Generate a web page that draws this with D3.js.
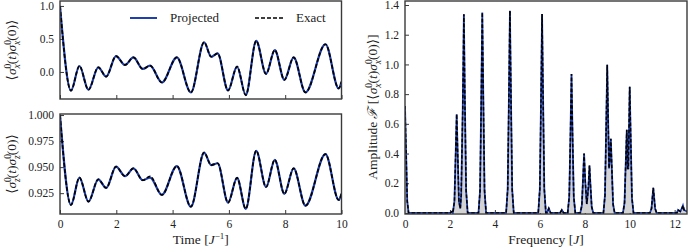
<!DOCTYPE html>
<html><head><meta charset="utf-8">
<script src="https://cdn.jsdelivr.net/npm/d3@7"></script>
<style>body{margin:0;background:#fff}svg{display:block}</style>
</head><body>
<svg id="c" width="688" height="249"></svg>
<script>
// ---- data ----
// top-left: <sigma_x sigma_x>, extrema (time, value)
const tX = [0, 0.39, 0.69, 1.01, 1.36, 1.64, 1.99, 2.31, 2.61, 2.94, 3.2, 3.62, 4.15, 4.65, 5.12, 5.37, 5.6, 5.97, 6.29, 6.6, 6.97, 7.32, 7.63, 7.97, 8.3, 8.72, 9.43, 9.9, 10];
const vXproj = [1.0, -0.283, 0.09, -0.27, 0.07, -0.07, 0.24, 0.106, 0.22, 0.045, 0.095, -0.16, 0.22, -0.31, 0.45, 0.23, 0.28, -0.28, 0.08, -0.35, 0.47, -0.03, 0.33, -0.12, 0.22, -0.31, 0.42, -0.25, -0.15];
const vXexact = [1.0, -0.283, 0.09, -0.27, 0.07, -0.07, 0.24, 0.106, 0.22, 0.045, 0.095, -0.16, 0.22, -0.31, 0.45, 0.23, 0.28, -0.28, 0.08, -0.35, 0.47, -0.03, 0.33, -0.12, 0.22, -0.31, 0.42, -0.25, -0.15];
// bottom-left: <sigma_z sigma_z>
const vZproj = [1.0, 0.9137, 0.940, 0.9169, 0.9383, 0.930, 0.9504, 0.9413, 0.9488, 0.9374, 0.9400, 0.9234, 0.951, 0.912, 0.964, 0.952, 0.9537, 0.916, 0.9396, 0.910, 0.9657, 0.9309, 0.957, 0.9244, 0.9488, 0.913, 0.9625, 0.9185, 0.9244];
const vZexact = [1.0, 0.9137, 0.940, 0.9169, 0.9383, 0.930, 0.9504, 0.9413, 0.9488, 0.9374, 0.9412, 0.9234, 0.951, 0.912, 0.964, 0.952, 0.9537, 0.916, 0.9396, 0.910, 0.9657, 0.9309, 0.957, 0.9244, 0.9488, 0.913, 0.9625, 0.9185, 0.9244];
// right: Fourier amplitude spectrum (frequency, amplitude)
const specF = [0, 0.05, 0.1, 0.16, 2.0, 2.1, 2.13, 2.2, 2.25, 2.3, 2.35, 2.4, 2.46, 2.5, 2.57, 2.62, 2.67, 2.72, 2.79,
  3.27, 3.34, 3.39, 3.44, 3.49, 3.54, 3.61, 4.5, 4.57, 4.62, 4.67, 4.72, 4.77, 4.84,
  5.93, 6.0, 6.05, 6.1, 6.15, 6.2, 6.27, 6.32, 6.4, 6.48, 6.9, 6.98, 7.06,
  7.24, 7.31, 7.36, 7.41, 7.46, 7.51, 7.58, 7.8, 7.87, 7.92, 7.97, 8.02, 8.09, 8.16, 8.21, 8.26, 8.31, 8.38,
  8.83, 8.9, 8.95, 9.0, 9.05, 9.08, 9.11, 9.16, 9.21, 9.26, 9.33,
  9.7, 9.77, 9.82, 9.87, 9.91, 9.94, 10.0, 10.05, 10.1, 10.17,
  10.9, 10.97, 11.01, 11.05, 11.09, 11.13, 11.2, 12.1, 12.15, 12.25, 12.32, 12.37, 12.42, 12.55];
const specA = [0.72, 0.4, 0.08, 0, 0, 0.01, 0, 0.08, 0.37, 0.665, 0.37, 0.08, 0.03, 0.12, 0.7, 1.337, 0.7, 0.15, 0,
  0, 0.15, 0.72, 1.35, 0.72, 0.15, 0, 0, 0.16, 0.73, 1.362, 0.73, 0.16, 0,
  0, 0.16, 0.72, 1.34, 0.72, 0.16, 0, 0, 0.03, 0, 0, 0.02, 0,
  0, 0.11, 0.5, 0.936, 0.5, 0.11, 0, 0, 0.05, 0.22, 0.40, 0.22, 0.06, 0.17, 0.32, 0.17, 0.04, 0,
  0, 0.12, 0.55, 0.997, 0.55, 0.3, 0.35, 0.50, 0.28, 0.06, 0,
  0, 0.07, 0.32, 0.56, 0.3, 0.3, 0.85, 0.47, 0.1, 0,
  0, 0.03, 0.1, 0.17, 0.1, 0.03, 0, 0, 0.02, 0.01, 0.03, 0.05, 0.02, 0.01];
const timeTicks = [0, 2, 4, 6, 8, 10];
const xTopTicks = [0, 0.5, 1.0];
const zTicks = [0.925, 0.950, 0.975, 1.000];
const fTicks = [0, 2, 4, 6, 8, 10, 12];
const aTicks = [0, 0.2, 0.4, 0.6, 0.8, 1.0, 1.2, 1.4];
const legendNames = ["Projected", "Exact"];

// ---- drawing ----
const svg = d3.select('#c');
const FONT = "'Liberation Serif','DejaVu Serif',serif";
const BLUE = '#1f3fae', FRAME = '#3a3a3a', TXT = '#222';

const P = {
  tl: {x0: 60, x1: 341.5, y0: 1, y1: 99},
  bl: {x0: 60, x1: 341.5, y0: 114, y1: 214},
  r:  {x0: 405, x1: 687, y0: 1, y1: 214}
};

function panel(key, xs, ys, xticks, yticks, xfmt, yfmt, showXLabels) {
  const p = P[key];
  const g = svg.append('g');
  g.append('clipPath').attr('id', 'clip' + key).append('rect')
    .attr('x', p.x0).attr('y', p.y0).attr('width', p.x1 - p.x0).attr('height', p.y1 - p.y0);
  const ax = d3.axisBottom(xs).tickValues(xticks).tickSizeInner(-4).tickSizeOuter(0).tickPadding(6)
    .tickFormat(showXLabels ? xfmt : () => '');
  const ay = d3.axisLeft(ys).tickValues(yticks).tickSizeInner(-4).tickSizeOuter(0).tickPadding(6).tickFormat(yfmt);
  const gx = g.append('g').attr('transform', `translate(0,${p.y1})`).call(ax);
  const gy = g.append('g').attr('transform', `translate(${p.x0},0)`).call(ay);
  [gx, gy].forEach(a => {
    a.select('.domain').remove();
    a.selectAll('line').attr('stroke', FRAME).attr('stroke-width', 1);
    a.selectAll('text').attr('font-family', FONT).attr('font-size', 11.5).attr('fill', TXT);
  });
  return g;
}
function frame(key) {
  const p = P[key];
  svg.append('rect').attr('x', p.x0).attr('y', p.y0).attr('width', p.x1 - p.x0).attr('height', p.y1 - p.y0)
    .attr('fill', 'none').attr('stroke', FRAME).attr('stroke-width', 1.4);
}

// Top-left
const xT = d3.scaleLinear().domain([0, 10]).range([P.tl.x0, P.tl.x1]);
const yTL = d3.scaleLinear().domain([-0.41, 1.075]).range([P.tl.y1, P.tl.y0]);
const gTL = panel('tl', xT, yTL, timeTicks, xTopTicks, d3.format('.0f'), d3.format('.1f'), false);
const lineTL = d3.line().x((d, i) => xT(tX[i])).y(d => yTL(d)).curve(d3.curveMonotoneX);
gTL.append('path').attr('d', lineTL(vXproj)).attr('clip-path', 'url(#cliptl)')
  .attr('fill', 'none').attr('stroke', BLUE).attr('stroke-width', 2.2);
gTL.append('path').attr('d', lineTL(vXexact)).attr('clip-path', 'url(#cliptl)')
  .attr('fill', 'none').attr('stroke', '#000').attr('stroke-width', 1.7).attr('stroke-dasharray', '4,2');
frame('tl');

// Bottom-left
const xB = d3.scaleLinear().domain([0, 10]).range([P.bl.x0, P.bl.x1]);
const yBL = d3.scaleLinear().domain([0.905, 1.001]).range([P.bl.y1, P.bl.y0]);
const gBL = panel('bl', xB, yBL, timeTicks, zTicks, d3.format('.0f'), d3.format('.3f'), true);
const lineBL = d3.line().x((d, i) => xB(tX[i])).y(d => yBL(d)).curve(d3.curveMonotoneX);
gBL.append('path').attr('d', lineBL(vZproj)).attr('clip-path', 'url(#clipbl)')
  .attr('fill', 'none').attr('stroke', BLUE).attr('stroke-width', 2.2);
gBL.append('path').attr('d', lineBL(vZexact)).attr('clip-path', 'url(#clipbl)')
  .attr('fill', 'none').attr('stroke', '#000').attr('stroke-width', 1.7).attr('stroke-dasharray', '4,2');
frame('bl');

// Right spectrum
const xF = d3.scaleLinear().domain([0, 12.55]).range([P.r.x0, P.r.x1]);
const yA = d3.scaleLinear().domain([-0.007, 1.427]).range([P.r.y1, P.r.y0]);
const gR = panel('r', xF, yA, fTicks, aTicks, d3.format('.0f'), d3.format('.1f'), true);
const area = d3.area().x((d, i) => xF(specF[i])).y0(yA(0)).y1(d => yA(d));
const lineR = d3.line().x((d, i) => xF(specF[i])).y(d => yA(d));
gR.append('path').attr('d', area(specA)).attr('clip-path', 'url(#clipr)').attr('fill', '#d3d3d3');
gR.append('path').attr('d', lineR(specA)).attr('clip-path', 'url(#clipr)')
  .attr('fill', 'none').attr('stroke', BLUE).attr('stroke-width', 1.8);
gR.append('path').attr('d', lineR(specA)).attr('clip-path', 'url(#clipr)')
  .attr('fill', 'none').attr('stroke', '#000').attr('stroke-width', 1.5).attr('stroke-dasharray', '3.5,2');
frame('r');

// Legend
const leg = svg.append('g');
[[130, 157, BLUE, null, 2], [255, 283, '#000', '4,2', 1.7]].forEach((s, i) => {
  const l = leg.append('line').attr('x1', s[0]).attr('x2', s[1]).attr('y1', 18).attr('y2', 18)
    .attr('stroke', s[2]).attr('stroke-width', s[4]);
  if (s[3]) l.attr('stroke-dasharray', s[3]);
  leg.append('text').attr('x', s[1] + 13).attr('y', 22).attr('font-family', FONT).attr('font-size', 13)
    .attr('fill', TXT).text(legendNames[i]);
});

// Axis titles
function mathLabel(t, sub) {
  t.append('tspan').text('⟨');
  ['(t)', '(0)'].forEach(arg => {
    t.append('tspan').attr('font-style', 'italic').text('σ');
    t.append('tspan').attr('font-size', 9.5).attr('dy', -5.5).text('0');
    t.append('tspan').attr('font-size', 9.5).attr('font-style', 'italic').attr('dx', -4.8).attr('dy', 9).text(sub);
    if (arg === '(t)') {
      t.append('tspan').attr('dy', -3.5).text('(');
      t.append('tspan').attr('font-style', 'italic').text('t');
      t.append('tspan').text(')');
    } else {
      t.append('tspan').attr('dy', -3.5).text('(0)');
    }
  });
  t.append('tspan').text('⟩');
}
function yTitle(x, y, sub, prefix) {
  const t = svg.append('text').attr('transform', `translate(${x},${y}) rotate(-90)`)
    .attr('text-anchor', 'middle').attr('font-family', FONT).attr('font-size', 13.5).attr('fill', TXT);
  if (prefix) {
    t.append('tspan').text('Amplitude ');
    t.append('tspan').attr('font-style', 'italic').text('ℱ');
    t.append('tspan').text(' [');
  }
  mathLabel(t, sub);
  if (prefix) t.append('tspan').text(']');
}
yTitle(16, 50, 'x', false);
yTitle(16, 164, 'z', false);
yTitle(377, 107, 'x', true);

const tt = svg.append('text').attr('x', (P.bl.x0 + P.bl.x1) / 2).attr('y', 244).attr('text-anchor', 'middle')
  .attr('font-family', FONT).attr('font-size', 13.5).attr('fill', TXT);
tt.append('tspan').text('Time [');
tt.append('tspan').attr('font-style', 'italic').text('J');
tt.append('tspan').attr('font-size', 9).attr('dy', -5).text('−1');
tt.append('tspan').attr('dy', 5).text(']');

const ft = svg.append('text').attr('x', (P.r.x0 + P.r.x1) / 2).attr('y', 244).attr('text-anchor', 'middle')
  .attr('font-family', FONT).attr('font-size', 13.5).attr('fill', TXT);
ft.append('tspan').text('Frequency [');
ft.append('tspan').attr('font-style', 'italic').text('J');
ft.append('tspan').text(']');
</script>
</body></html>
